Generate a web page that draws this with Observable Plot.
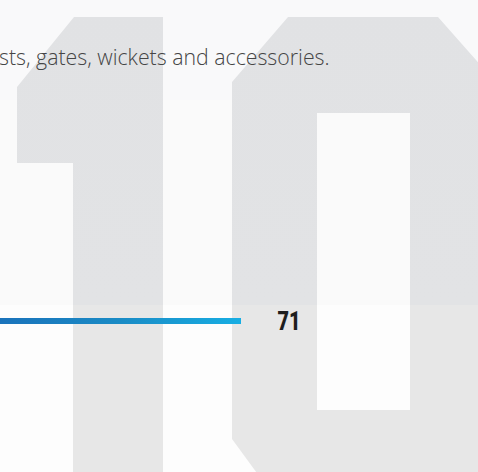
<!DOCTYPE html>
<html>
<head>
<meta charset="utf-8">
<script src="https://cdn.jsdelivr.net/npm/d3@7"></script>
<script src="https://cdn.jsdelivr.net/npm/@observablehq/plot@0.6"></script>
<style>
  html, body { margin: 0; padding: 0; background: #fafafa; overflow: hidden; }
  #wrap { position: relative; width: 478px; height: 472px; overflow: hidden;
    background: linear-gradient(to bottom, #f9f9fa 0px, #f9f9fa 100px, #fafafa 100px, #fafafa 305px, #fdfdfd 305px, #fdfdfd 472px); }
  #deco { position: absolute; left: 0; top: 0; }
  #caption { position: absolute; left: -1px; top: 43px; font-family: "Open Sans", sans-serif; font-weight: 300;
    font-size: 21.3px; color: #454545; white-space: nowrap; line-height: 28px; }
  #chart { position: absolute; left: 0; top: 0; }
  #chart svg { background: transparent; }
</style>
</head>
<body>
<div id="wrap">
  <svg id="deco" width="478" height="472" viewBox="0 0 478 472">
    <defs>
      <linearGradient id="digitFill" gradientUnits="userSpaceOnUse" x1="0" y1="0" x2="0" y2="472">
        <stop offset="0" stop-color="#e1e2e4"/>
        <stop offset="0.646" stop-color="#e2e3e5"/>
        <stop offset="0.646" stop-color="#e7e7e7"/>
        <stop offset="1" stop-color="#e7e7e7"/>
      </linearGradient>
    </defs>
    <polygon fill="url(#digitFill)" points="74,17 163,17 163,480 73,480 73,163 17,163 17,87"/>
    <path fill="url(#digitFill)" fill-rule="evenodd"
      d="M288,17 L438,17 L520,110 L520,480 L262,480 L232,439 L232,82 Z M317,113 L410,113 L410,410 L317,410 Z"/>
  </svg>
  <div id="caption">sts, gates, wickets and accessories.</div>
  <div id="chart"></div>
</div>
<script>
const categories = ["Posts, gates, wickets and accessories"];
const values = [71];
const valueLabels = ["71"];

const data = categories.map((c, i) => ({category: c, value: values[i], label: valueLabels[i]}));

const plot = Plot.plot({
  width: 478,
  height: 472,
  margin: 0,
  style: {background: "transparent", overflow: "hidden"},
  x: {domain: [0, 71], range: [-260, 241], axis: null},
  y: {domain: categories, range: [318, 324], padding: 0, axis: null},
  marks: [
    Plot.barX(data, {x: "value", y: "category", fill: "url(#barGrad)"}),
    Plot.text(data, {x: "value", y: "category", text: "label", textAnchor: "start", dx: 36, dy: 0,
      fontFamily: "Roboto, 'DejaVu Sans', sans-serif", fontWeight: 900, fontSize: 25, fill: "#1e1e1e",
      lineAnchor: "middle", className: "value-label"})
  ]
});

const ns = "http://www.w3.org/2000/svg";
const defs = document.createElementNS(ns, "defs");
const lg = document.createElementNS(ns, "linearGradient");
lg.setAttribute("id", "barGrad");
lg.setAttribute("gradientUnits", "userSpaceOnUse");
lg.setAttribute("x1", "0"); lg.setAttribute("x2", "241");
lg.setAttribute("y1", "0"); lg.setAttribute("y2", "0");
[["0", "#1b73bb"], ["0.5", "#1a8bc5"], ["1", "#18aee3"]].forEach(([o, c]) => {
  const s = document.createElementNS(ns, "stop");
  s.setAttribute("offset", o); s.setAttribute("stop-color", c);
  lg.appendChild(s);
});
defs.appendChild(lg);
plot.insertBefore(defs, plot.firstChild);
plot.querySelectorAll(".value-label text").forEach(t => {
  t.setAttribute("textLength", "23");
  t.setAttribute("lengthAdjust", "spacingAndGlyphs");
});
document.getElementById("chart").appendChild(plot);
</script>
</body>
</html>
